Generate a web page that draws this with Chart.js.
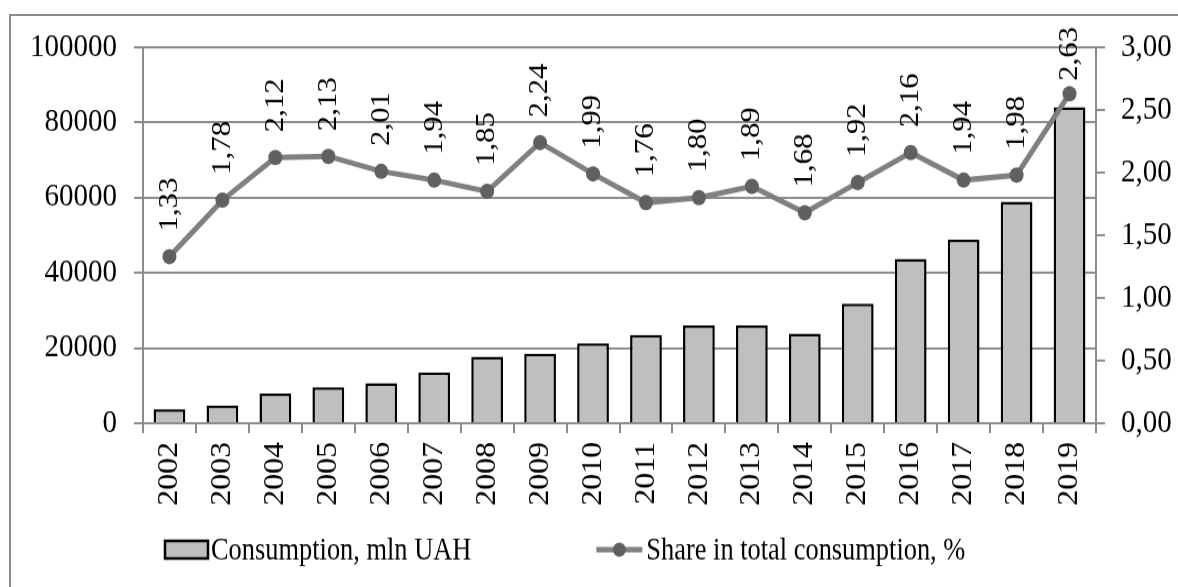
<!DOCTYPE html>
<html>
<head>
<meta charset="utf-8">
<script src="https://cdn.jsdelivr.net/npm/chart.js@4.4.0/dist/chart.umd.min.js"></script>
<style>
  html, body { margin: 0; padding: 0; background: #fff; overflow: hidden; }
  #frame { position: absolute; left: 9px; top: 14px; width: 1200px; height: 600px; border: 2px solid #8c8c8c; }
  /* the source picture is stretched vertically a little, so the chart is too */
  #wrap { position: absolute; left: 0; top: 0; width: 1178px; height: 534px; transform: scale(1, 1.0993); transform-origin: 0 0; }
</style>
</head>
<body>
<div id="frame"></div>
<div id="wrap"><canvas id="chart"></canvas></div>
<script>
const years = ['2002', '2003', '2004', '2005', '2006', '2007', '2008', '2009', '2010',
  '2011', '2012', '2013', '2014', '2015', '2016', '2017', '2018', '2019'];
const consumption = [3700, 4700, 7900, 9600, 10700, 13500, 17700, 18500, 21300,
  23500, 26000, 26000, 23800, 31800, 43700, 48800, 58900, 84100];
const share = [1.33, 1.78, 2.12, 2.13, 2.01, 1.94, 1.85, 2.24, 1.99,
  1.76, 1.80, 1.89, 1.68, 1.92, 2.16, 1.94, 1.98, 2.63];
const leftMax = 100000;
const leftStep = 20000;
const rightMax = 3;
const rightStep = 0.5;

const FONT = '"Liberation Serif", "Times New Roman", serif';
const GRID = '#8c8c8c';
const BAR_FILL = '#bfbfbf';
const LINE_COLOR = '#808080';
const POINT_COLOR = '#606060';

const fmtComma = v => v.toFixed(2).replace('.', ',');

// vertical value labels above the line points (kept inside the frame at the top)
const pointLabels = {
  id: 'pointLabels',
  afterDatasetsDraw(chart) {
    const meta = chart.getDatasetMeta(1);
    const ctx = chart.ctx;
    ctx.save();
    ctx.font = '28px ' + FONT;
    ctx.fillStyle = '#000';
    ctx.textAlign = 'left';
    ctx.textBaseline = 'middle';
    meta.data.forEach((pt, i) => {
      const text = fmtComma(share[i]);
      const w = ctx.measureText(text).width;
      const start = Math.max(pt.y - 23, 24.5 + w);
      ctx.save();
      ctx.translate(pt.x, Math.min(start, pt.y - 11));
      ctx.rotate(-Math.PI / 2);
      ctx.fillText(text, 0, 0);
      ctx.restore();
    });
    ctx.restore();
  }
};

// legend under the axis: a box for the bars, a line with a dot for the share
const bottomLegend = {
  id: 'bottomLegend',
  afterDraw(chart) {
    const ctx = chart.ctx;
    const ds = chart.data.datasets;
    const y = 500;
    const squeeze = 0.88;
    ctx.save();
    ctx.font = '30px ' + FONT;
    ctx.textBaseline = 'middle';
    ctx.textAlign = 'left';

    const drawText = (text, x) => {
      ctx.save();
      ctx.translate(x, y + 1);
      ctx.scale(squeeze, 1);
      ctx.fillStyle = '#000';
      ctx.fillText(text, 0, 0);
      ctx.restore();
      return ctx.measureText(text).width * squeeze;
    };

    let x = 165;
    ctx.fillStyle = BAR_FILL;
    ctx.fillRect(x, y - 8, 43, 16);
    ctx.strokeStyle = '#000';
    ctx.lineWidth = 2.5;
    ctx.strokeRect(x, y - 8, 43, 16);
    const w1 = drawText(ds[0].label, x + 46);

    x = x + 46 + w1 + 125;
    ctx.strokeStyle = LINE_COLOR;
    ctx.lineWidth = 5;
    ctx.beginPath();
    ctx.moveTo(x, y);
    ctx.lineTo(x + 46, y);
    ctx.stroke();
    ctx.fillStyle = POINT_COLOR;
    ctx.beginPath();
    ctx.arc(x + 23, y, 6.5, 0, Math.PI * 2);
    ctx.fill();
    drawText(ds[1].label, x + 50);
    ctx.restore();
  }
};

const tickFont = { family: FONT, size: 29 };

new Chart(document.getElementById('chart'), {
  type: 'bar',
  data: {
    labels: years,
    datasets: [
      {
        label: 'Consumption, mln UAH',
        data: consumption,
        backgroundColor: BAR_FILL,
        borderColor: '#000',
        borderWidth: 2.5,
        barPercentage: 0.6,
        categoryPercentage: 1,
        yAxisID: 'y',
        order: 2
      },
      {
        type: 'line',
        label: 'Share in total consumption, %',
        data: share,
        borderColor: LINE_COLOR,
        borderWidth: 5,
        pointRadius: 7,
        pointBackgroundColor: POINT_COLOR,
        pointBorderColor: POINT_COLOR,
        pointBorderWidth: 0,
        tension: 0,
        yAxisID: 'y1',
        order: 1
      }
    ]
  },
  options: {
    responsive: true,
    maintainAspectRatio: false,
    animation: false,
    layout: { padding: { top: 43, bottom: 49, left: 0, right: 0 } },
    scales: {
      x: {
        grid: { drawOnChartArea: false, color: GRID, lineWidth: 2, tickLength: 9, offset: true },
        border: { color: GRID, width: 2 },
        ticks: { minRotation: 90, maxRotation: 90, autoSkip: false, padding: 8, color: '#000', font: tickFont },
        afterFit: s => { s.height = 100; }
      },
      y: {
        position: 'left',
        min: 0,
        max: leftMax,
        ticks: { stepSize: leftStep, padding: 17, color: '#000', font: tickFont, callback: v => String(v) },
        grid: { color: GRID, lineWidth: 2, tickLength: 9 },
        border: { color: GRID, width: 2 },
        afterFit: s => { s.width = 143; }
      },
      y1: {
        position: 'right',
        min: 0,
        max: rightMax,
        ticks: { stepSize: rightStep, padding: 16, color: '#000', font: tickFont, callback: v => fmtComma(v) },
        grid: { drawOnChartArea: false, color: GRID, lineWidth: 2, tickLength: 9 },
        border: { color: GRID, width: 2 },
        afterFit: s => { s.width = 82; }
      }
    },
    plugins: {
      legend: { display: false },
      tooltip: { enabled: false }
    }
  },
  plugins: [pointLabels, bottomLegend]
});
</script>
</body>
</html>
